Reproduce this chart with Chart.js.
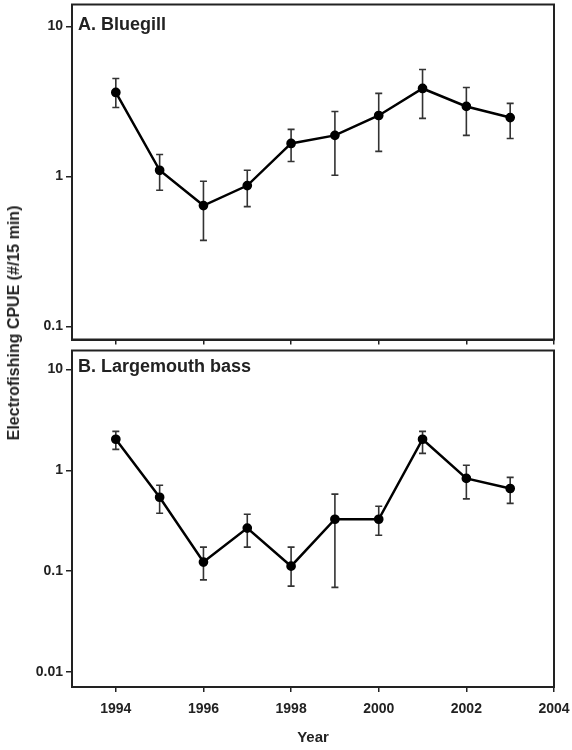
<!DOCTYPE html>
<html>
<head>
<meta charset="utf-8">
<script src="https://cdn.jsdelivr.net/npm/chart.js@4.4.1/dist/chart.umd.min.js"></script>
<style>
  html, body { margin: 0; padding: 0; background: #fff; }
  #wrap { position: relative; width: 572px; height: 750px; overflow: hidden; }
  canvas { position: absolute; left: 0; }
  #cTop { top: -2px; }
  #cBot { top: 344px; }
  #ytitle {
    position: absolute; left: 14px; top: 323px;
    transform: translate(-50%, -50%) rotate(-90deg);
    white-space: nowrap;
    font: bold 16px "Liberation Sans", Arial, sans-serif;
    color: #222;
  }
</style>
</head>
<body>
<div id="wrap">
  <canvas id="cTop" width="572" height="348"></canvas>
  <canvas id="cBot" width="572" height="406"></canvas>
  <div id="ytitle">Electrofishing CPUE (#/15 min)</div>
</div>
<script>
// Survey years
const years = [1994, 1995, 1996, 1997, 1998, 1999, 2000, 2001, 2002, 2003];

// Bluegill CPUE mean and error-bar limits
const bluegillMean = [3.63, 1.10, 0.64, 0.87, 1.66, 1.88, 2.55, 3.86, 2.93, 2.47];
const bluegillHigh = [4.50, 1.40, 0.93, 1.10, 2.06, 2.71, 3.58, 5.17, 3.92, 3.07];
const bluegillLow  = [2.88, 0.81, 0.375, 0.63, 1.26, 1.02, 1.47, 2.44, 1.88, 1.79];

// Largemouth bass CPUE mean and error-bar limits
const bassMean = [2.03, 0.54, 0.123, 0.267, 0.112, 0.327, 0.327, 2.03, 0.83, 0.66];
const bassHigh = [2.43, 0.71, 0.173, 0.366, 0.173, 0.58, 0.44, 2.43, 1.12, 0.85];
const bassLow  = [1.61, 0.375, 0.082, 0.173, 0.071, 0.069, 0.227, 1.47, 0.52, 0.47];

// Axis tick values
const xTicks = [1994, 1996, 1998, 2000, 2002, 2004];
const yTicksTop = [0.1, 1, 10];
const yTicksBot = [0.01, 0.1, 1, 10];

const FONT = '"Liberation Sans", Arial, sans-serif';
const INK = '#222';

// Draws vertical error bars with caps from the dataset's low/high arrays
const errorBars = {
  id: 'errorBars',
  beforeDatasetsDraw(chart, args, opts) {
    const { ctx, scales: { x, y } } = chart;
    ctx.save();
    ctx.strokeStyle = '#333';
    ctx.lineWidth = 1.6;
    const cap = 3.5;
    years.forEach((yr, i) => {
      const px = x.getPixelForValue(yr);
      const top = y.getPixelForValue(opts.high[i]);
      const bot = y.getPixelForValue(opts.low[i]);
      ctx.beginPath();
      ctx.moveTo(px, top); ctx.lineTo(px, bot);
      ctx.moveTo(px - cap, top); ctx.lineTo(px + cap, top);
      ctx.moveTo(px - cap, bot); ctx.lineTo(px + cap, bot);
      ctx.stroke();
    });
    ctx.restore();
  }
};

// Box frame around the plotting area plus the panel label
const frame = {
  id: 'frame',
  afterDraw(chart, args, opts) {
    const { ctx, chartArea: a } = chart;
    ctx.save();
    ctx.strokeStyle = INK;
    ctx.lineWidth = 2;
    ctx.strokeRect(a.left, a.top, a.right - a.left, a.bottom - a.top);
    ctx.fillStyle = INK;
    ctx.font = 'bold 18px ' + FONT;
    ctx.textBaseline = 'middle';
    ctx.textAlign = 'left';
    ctx.fillText(opts.label, a.left + 6, opts.labelY);
    ctx.restore();
  }
};

function makeChart(el, mean, low, high, yMin, yMax, yTicks, label, labelY, showX, padTop, xHeight) {
  return new Chart(document.getElementById(el), {
    type: 'line',
    data: {
      datasets: [{
        data: years.map((yr, i) => ({ x: yr, y: mean[i] })),
        borderColor: '#000',
        borderWidth: 2.5,
        pointRadius: 3.6,
        pointBackgroundColor: '#000',
        pointBorderColor: '#000',
        tension: 0
      }]
    },
    options: {
      responsive: false,
      animation: false,
      layout: { padding: { top: padTop, right: 18, left: 0, bottom: 0 } },
      plugins: {
        legend: { display: false },
        tooltip: { enabled: false },
        errorBars: { low, high },
        frame: { label, labelY }
      },
      scales: {
        x: {
          type: 'linear',
          min: 1993, max: 2004,
          afterBuildTicks: s => { s.ticks = xTicks.map(v => ({ value: v })); },
          afterFit: s => { s.height = xHeight; s.paddingLeft = 0; s.paddingRight = 0; },
          grid: { drawOnChartArea: false, drawTicks: true, tickLength: 5, color: INK, lineWidth: 1.5 },
          border: { color: INK, width: 2 },
          ticks: {
            color: showX ? INK : 'rgba(0,0,0,0)',
            font: { family: FONT, size: 14, weight: 'bold' },
            padding: 9,
            maxRotation: 0,
            callback: v => String(v)
          },
          title: {
            display: showX,
            text: 'Year',
            color: INK,
            font: { family: FONT, size: 15, weight: 'bold' },
            padding: { top: 6, bottom: 3 }
          }
        },
        y: {
          type: 'logarithmic',
          min: yMin, max: yMax,
          afterBuildTicks: s => { s.ticks = yTicks.map(v => ({ value: v })); },
          afterFit: s => { s.width = 72; s.paddingTop = 0; s.paddingBottom = 0; },
          grid: { drawOnChartArea: false, drawTicks: true, tickLength: 6, color: INK, lineWidth: 1.5 },
          border: { color: INK, width: 2 },
          ticks: {
            color: INK,
            font: { family: FONT, size: 14, weight: 'bold' },
            padding: 3,
            callback: v => String(v)
          }
        }
      }
    },
    plugins: [errorBars, frame]
  });
}

makeChart('cTop', bluegillMean, bluegillLow, bluegillHigh, 0.082, 14.0, yTicksTop,
  'A. Bluegill', 27, false, 0, 6);
makeChart('cBot', bassMean, bassLow, bassHigh, 0.0071, 15.4, yTicksBot,
  'B. Largemouth bass', 23, true, 0, 63);
</script>
</body>
</html>
